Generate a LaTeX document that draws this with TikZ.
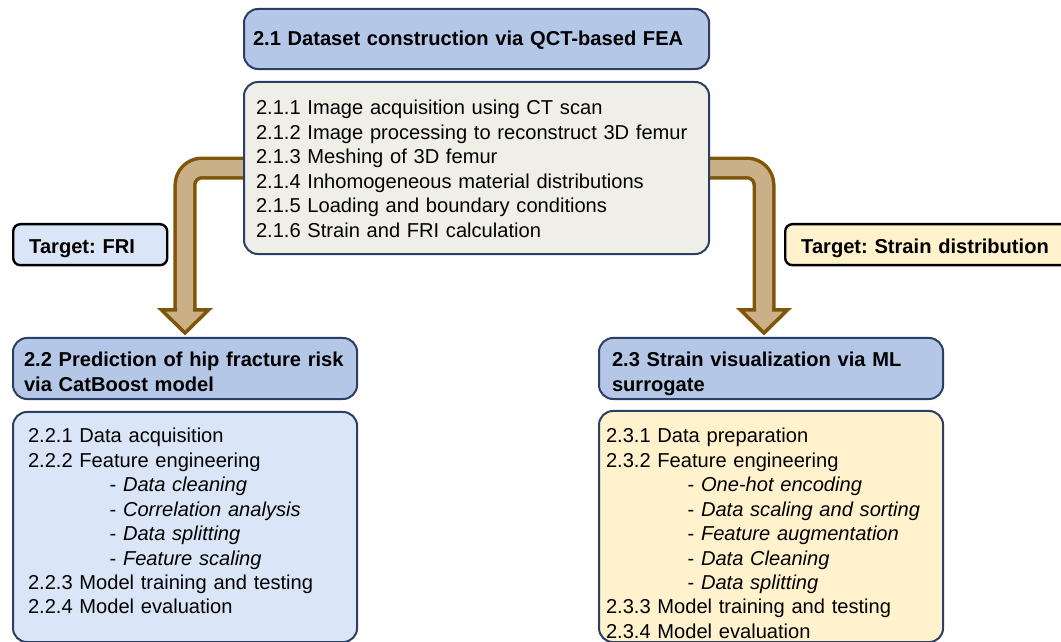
\documentclass[tikz,border=0pt]{standalone}
\usepackage{fontspec}
\setmainfont{Liberation Sans}
\frenchspacing
\usetikzlibrary{backgrounds}

\definecolor{headblue}{RGB}{180,199,231}
\definecolor{edgenavy}{RGB}{44,62,100}
\definecolor{feagray}{RGB}{239,239,232}
\definecolor{fripale}{RGB}{218,230,247}
\definecolor{strainpale}{RGB}{255,242,204}
\definecolor{arrowbrown}{RGB}{127,85,10}
\definecolor{arrowtan}{RGB}{201,176,135}

% indented sub-step of a task list
\newcommand{\subtask}[1]{\hspace*{2.04cm}- \textit{#1}}

\tikzset{
  panel/.style={draw=edgenavy, line width=0.05cm, rounded corners=0.35cm, anchor=north west,
    inner ysep=0pt, align=left, font=\fontsize{14.3pt}{17.36pt}\selectfont},
  heading/.style={panel, fill=headblue, font=\fontsize{14.3pt}{17.36pt}\selectfont\bfseries},
  target/.style={draw=black, line width=0.06cm, rounded corners=0.18cm, anchor=north west,
    inner ysep=0pt, inner xsep=0.4cm, align=left, text height=0.725cm, text depth=0.3cm,
    font=\fontsize{14.3pt}{17.36pt}\selectfont\bfseries},
  shaft/.style={draw=arrowbrown, line width=0.0875cm, double=arrowtan, double distance=0.4cm,
    rounded corners=0.425cm},
  arrowhead/.style={draw=arrowbrown, fill=arrowtan, line width=0.0875cm, line join=miter, line cap=rect}
}

\begin{document}
\begin{tikzpicture}[x=0.025cm, y=0.025cm]
\useasboundingbox (0,0) rectangle (1061,642);
\clip (0,0) rectangle (1061,642);

% dataset construction
\node[heading, inner xsep=0.225cm, text width=11.175cm, text height=0.925cm, text depth=0.575cm] (h21) at (243,634)
  {2.1 Dataset construction via QCT-based FEA};
\node[panel, fill=feagray, inner xsep=0.3cm, text width=11.025cm, text height=0.825cm, text depth=3.475cm] (c21) at (243,561)
  {2.1.1 Image acquisition using CT scan\\
   2.1.2 Image processing to reconstruct 3D femur\\
   2.1.3 Meshing of 3D femur\\
   2.1.4 Inhomogeneous material distributions\\
   2.1.5 Loading and boundary conditions\\
   2.1.6 Strain and FRI calculation};

% targets
\node[target, fill=fripale, text width=3.05cm] (t1) at (12,419) {Target: FRI};
\node[target, fill=strainpale, text width=6.7cm] (t2) at (784,419) {Target: Strain distribution};

% FRI branch
\node[heading, inner xsep=0.275cm, text width=8.05cm, text height=0.725cm, text depth=0.8cm] (h22) at (12,305)
  {\mbox{2.2 Prediction of hip fracture risk}\\via CatBoost model};
\node[panel, fill=fripale, inner xsep=0.375cm, text width=7.85cm, text height=0.775cm, text depth=4.975cm] (c22) at (12,231)
  {2.2.1 Data acquisition\\
   2.2.2 Feature engineering\\
   \subtask{Data cleaning}\\
   \subtask{Correlation analysis}\\
   \subtask{Data splitting}\\
   \subtask{Feature scaling}\\
   2.2.3 Model training and testing\\
   2.2.4 Model evaluation};

% strain branch
\node[heading, inner xsep=0.325cm, text width=7.95cm, text height=0.725cm, text depth=0.8cm] (h23) at (598,305)
  {2.3 Strain visualization via ML\\surrogate};
\node[panel, fill=strainpale, inner xsep=0.175cm, text width=8.25cm, text height=0.8cm, text depth=4.975cm] (c23) at (598,232)
  {2.3.1 Data preparation\\
   2.3.2 Feature engineering\\
   \subtask{One-hot encoding}\\
   \subtask{Data scaling and sorting}\\
   \subtask{Feature augmentation}\\
   \subtask{Data Cleaning}\\
   \subtask{Data splitting}\\
   2.3.3 Model training and testing\\
   2.3.4 Model evaluation};

% bent arrows behind the boxes
\coordinate (baseL) at (185,332);
\coordinate (tipL) at (185,309);
\coordinate (baseR) at (764,332);
\coordinate (tipR) at (764,309);
\begin{scope}[on background layer]
\draw[shaft] (c21.west) -| (baseL);
\draw[arrowhead] (baseL) ++(-9.75,0) -- ++(-13.75,0) -- (tipL) -- ++(23.5,23) -- ++(-13.75,0);
\draw[shaft] (c21.east) -| (baseR);
\draw[arrowhead] (baseR) ++(-9.75,0) -- ++(-13.75,0) -- (tipR) -- ++(23.5,23) -- ++(-13.75,0);
\end{scope}
\end{tikzpicture}
\end{document}
